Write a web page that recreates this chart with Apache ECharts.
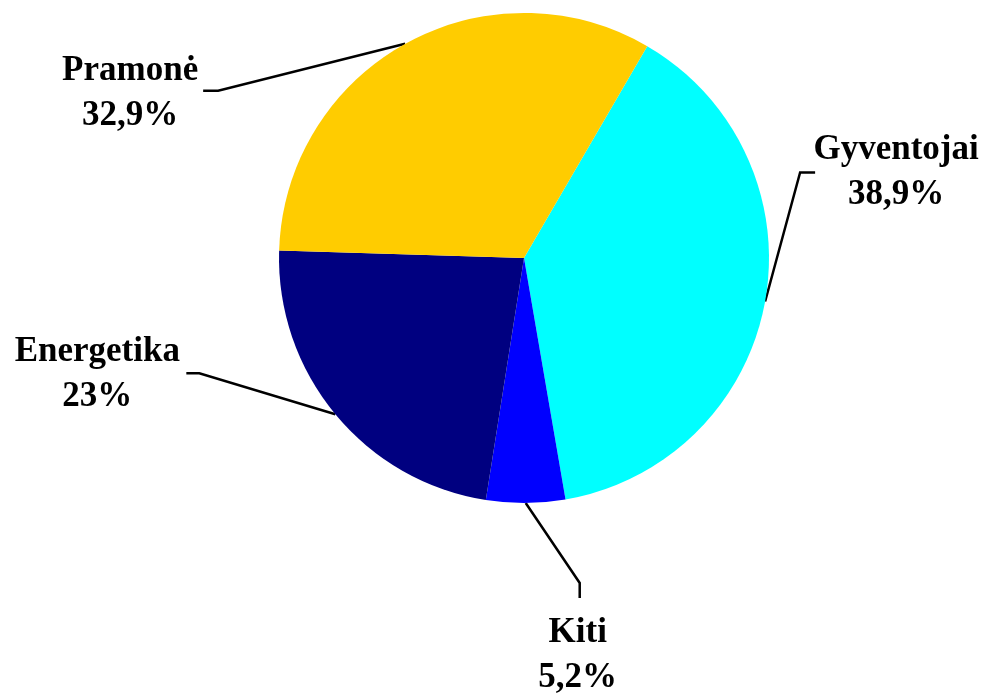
<!DOCTYPE html>
<html>
<head>
<meta charset="UTF-8">
<title>Pie</title>
<script src="https://cdn.jsdelivr.net/npm/echarts@6/dist/echarts.min.js"></script>
<style>
  html, body { margin: 0; padding: 0; background: #fff; }
  #chart { width: 982px; height: 695px; }
</style>
</head>
<body>
<div id="chart"></div>
<script>
// duomenys
var categories = ['Gyventojai', 'Kiti', 'Energetika', 'Pramonė'];
var values = [38.9, 5.2, 23, 32.9];
var colors = ['#00FFFF', '#0000FF', '#000080', '#FFCC00'];

// label placement relative to the slice anchor point: [label center, elbow, line end]
var labelOffsets = [
  [[131, -129], [35, -129], [50, -129]],
  [[52, 152], [54, 80], [54, 95]],
  [[-238, -40], [-136, -41], [-149, -41]],
  [[-275, 50], [-187, 47], [-202, 47]]
];

var pieData = categories.map(function (name, i) {
  return { name: name, value: values[i], itemStyle: { color: colors[i] } };
});

var myChart = echarts.init(document.getElementById('chart'));
var option = {
  backgroundColor: '#fff',
  animation: false,
  series: [{
    type: 'pie',
    center: [524, 258],
    radius: 245,
    startAngle: 59.8,
    clockwise: true,
    data: pieData,
    label: {
      show: true,
      position: 'outside',
      overflow: 'none',
      fontFamily: '"Liberation Serif", "DejaVu Serif", serif',
      fontWeight: 'bold',
      fontSize: 35,
      lineHeight: 45,
      color: '#000',
      align: 'center',
      formatter: function (p) {
        return p.name + '\n' + String(p.value).replace('.', ',') + '%';
      }
    },
    labelLine: {
      show: true,
      lineStyle: { color: '#000', width: 2.5 }
    },
    labelLayout: function (params) {
      var a = params.labelLinePoints[0];
      var o = labelOffsets[params.dataIndex];
      return {
        x: a[0] + o[0][0],
        y: a[1] + o[0][1],
        align: 'center',
        verticalAlign: 'middle',
        width: 200,
        labelLinePoints: [
          [a[0], a[1]],
          [a[0] + o[1][0], a[1] + o[1][1]],
          [a[0] + o[2][0], a[1] + o[2][1]]
        ]
      };
    },
    emphasis: { disabled: true }
  }]
};
myChart.setOption(option);
</script>
</body>
</html>
